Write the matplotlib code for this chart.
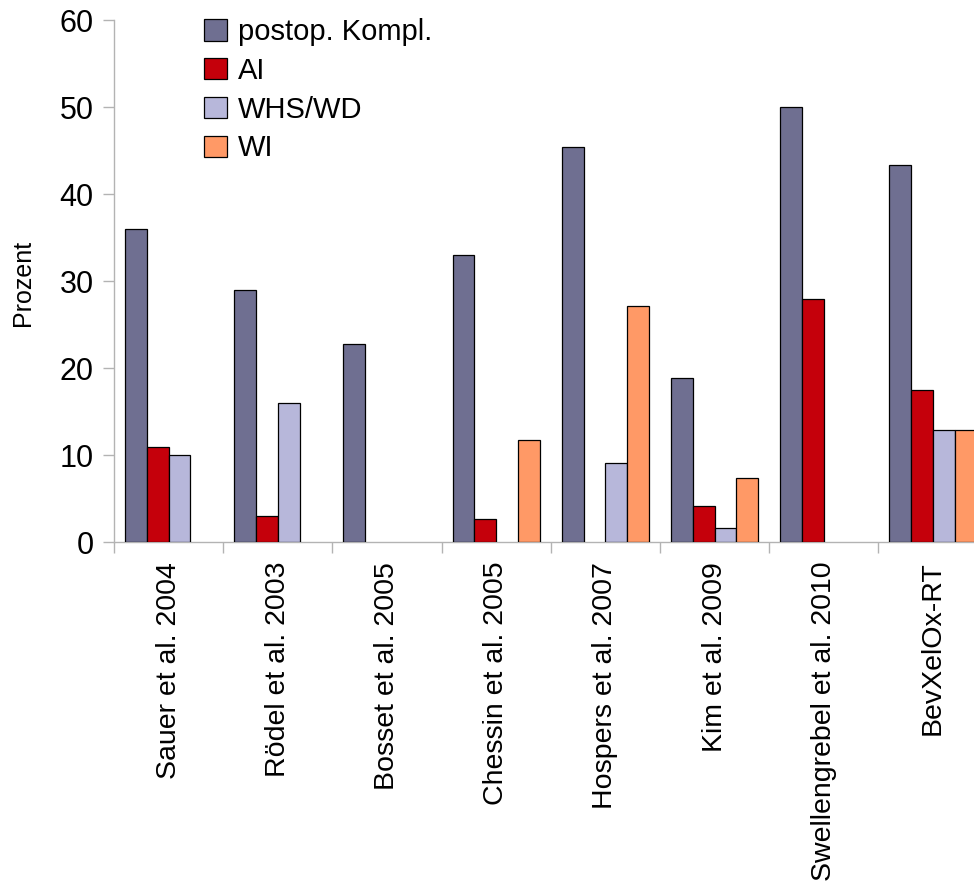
import numpy as np
import matplotlib
matplotlib.use("Agg")
import matplotlib.pyplot as plt

plt.rcParams['font.family'] = ['Liberation Sans', 'DejaVu Sans']

studies = ["Sauer et al. 2004", "Rödel et al. 2003", "Bosset et al. 2005",
           "Chessin et al. 2005", "Hospers et al. 2007", "Kim et al. 2009",
           "Swellengrebel et al. 2010", "BevXelOx-RT"]
series_names = ["postop. Kompl.", "AI", "WHS/WD", "WI"]
postop = [36, 29, 22.8, 33, 45.4, 18.9, 50, 43.4]
ai = [11, 3, None, 2.7, None, 4.2, 28, 17.5]
whs_wd = [10, 16, None, None, 9.1, 1.6, None, 12.9]
wi = [None, None, None, 11.8, 27.2, 7.4, None, 12.9]
colors = ["#6f6f91", "#c5000b", "#b7b7da", "#ff9966"]

fig = plt.figure(figsize=(9.74, 8.83), dpi=100)
ax = fig.add_axes([114 / 974, 1 - 542.3 / 883, 873.6 / 974, 522 / 883])

bar_w = 0.2
grid_gray = "#b3b3b3"
handles = []
for k, (vals, col, name) in enumerate(zip([postop, ai, whs_wd, wi], colors, series_names)):
    xs = [i + 0.1 + k * bar_w for i, v in enumerate(vals) if v is not None]
    hs = [v for v in vals if v is not None]
    b = ax.bar(xs, hs, width=bar_w, align='edge', color=col,
               edgecolor='black', linewidth=0.9, label=name, zorder=3)
    handles.append(b)

ax.set_xlim(0, len(studies))
ax.set_ylim(0, 60)
ax.set_yticks(np.arange(0, 61, 10))
ax.tick_params(axis='y', labelsize=22, length=8, width=1, color=grid_gray,
               pad=6.5, colors='black')
ax.tick_params(axis='y', color=grid_gray)

ax.set_xticks(np.arange(0, len(studies) + 1))
ax.set_xticklabels([])
ax.tick_params(axis='x', which='major', length=8, width=1, color=grid_gray)
ax.set_xticks(np.arange(len(studies)) + 0.5, minor=True)
ax.set_xticklabels(studies, minor=True, rotation=90, fontsize=20.5, va='top', ha='center')
ax.tick_params(axis='x', which='minor', length=0, pad=14)

for s in ['top', 'right']:
    ax.spines[s].set_visible(False)
for s in ['left', 'bottom']:
    ax.spines[s].set_color(grid_gray)
    ax.spines[s].set_linewidth(1)

fig.text(23.5 / 974, 1 - 283 / 883, "Prozent", rotation=90, fontsize=18,
         ha='center', va='center')

fig.legend(handles=handles, labels=series_names, loc='upper left',
           bbox_to_anchor=(204 / 974, 1 - 18 / 883), frameon=False,
           fontsize=21, handlelength=0.79, handleheight=0.75,
           handletextpad=0.38, labelspacing=0.37, borderpad=0, borderaxespad=0)

fig.savefig("out.png", dpi=100)
